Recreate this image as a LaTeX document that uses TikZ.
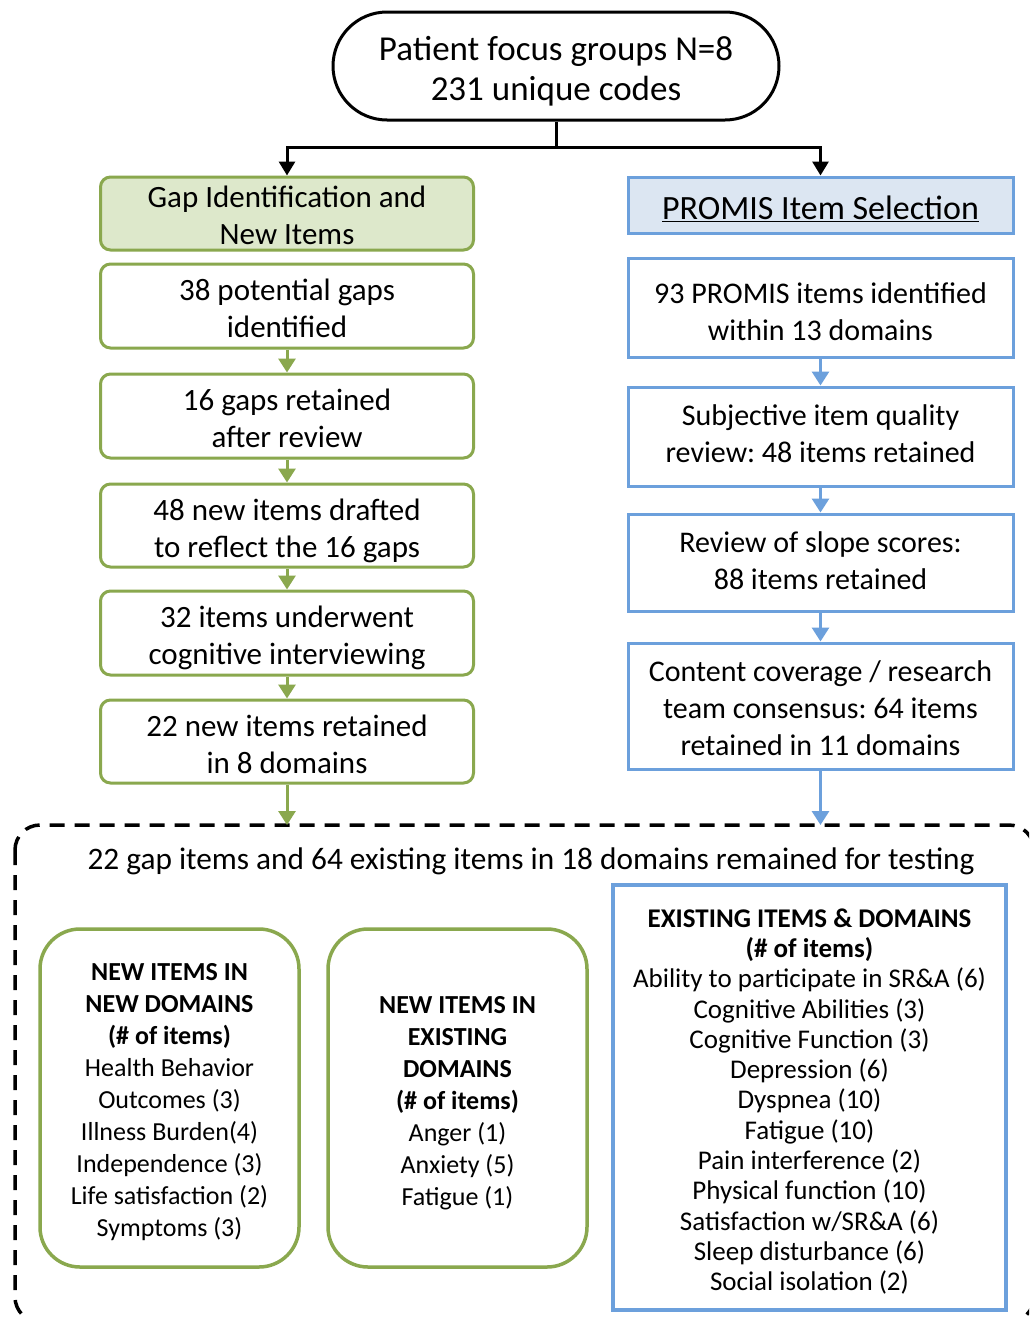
\documentclass[tikz,border=0pt]{standalone}
\usepackage{fontspec}
\setmainfont{Carlito}
\usetikzlibrary{arrows.meta}
\definecolor{gborder}{RGB}{138,168,78}
\definecolor{gfill}{RGB}{221,232,203}
\definecolor{bborder}{RGB}{108,160,220}
\definecolor{bfill}{RGB}{220,230,242}
\frenchspacing
\begin{document}
\begin{tikzpicture}[x=1pt,y=-1pt,
  gstep/.style={draw=gborder, line width=3pt, rounded corners=10pt, minimum width=373pt, inner sep=0pt},
  bstep/.style={draw=bborder, line width=3pt, minimum width=385pt, inner sep=0pt},
  gtext/.style={align=center, font=\fontsize{31}{37}\selectfont, inner sep=0pt},
  btext/.style={align=center, font=\fontsize{30}{37}\selectfont, inner sep=0pt},
  garrow/.style={draw=gborder, line width=3pt, -{Triangle[width=17pt,length=14pt]}},
  barrow/.style={draw=bborder, line width=3pt, -{Triangle[width=17pt,length=14pt]}},
  karrow/.style={draw=black, line width=3pt, -{Triangle[width=16pt,length=14pt]}},
  gbig/.style={draw=gborder, line width=3.5pt, rounded corners=40pt, minimum width=259pt, minimum height=338pt, inner sep=0pt},
  bbig/.style={draw=bborder, line width=3.5pt, minimum width=393pt, minimum height=425pt, inner sep=0pt},
  gbigtext/.style={align=center, font=\fontsize{26}{32}\selectfont, inner sep=0pt},
  bbigtext/.style={align=center, font=\fontsize{27}{30.3}\selectfont, inner sep=0pt}
]
\useasboundingbox (0,0) rectangle (1029,1317);
\fill[white] (0,0) rectangle (1029,1317);

% top
\node[draw, line width=3pt, rounded corners=54pt, minimum width=446pt, minimum height=108pt, inner sep=0pt] (top) at (556,66) {};
\node[align=center, font=\fontsize{35}{40}\selectfont, inner sep=0pt] (topt) at ([yshift=-5pt]top.center) {Patient focus groups N=8\\231 unique codes};
\coordinate (split) at (556,147);

% left column
\node[gstep, fill=gfill, minimum height=73pt] (g0) at (287,213.5) {};
\node[gstep, minimum height=84pt] (g1) at (287,306) {};
\node[gstep, minimum height=84pt] (g2) at (287,416) {};
\node[gstep, minimum height=83pt] (g3) at (287,525.5) {};
\node[gstep, minimum height=84pt] (g4) at (287,633) {};
\node[gstep, minimum height=83pt] (g5) at (287,741.5) {};
\node[gtext] (g0t) at ([yshift=-2pt]g0.center) {Gap Identification and\\New Items};
\node[gtext] (g1t) at ([yshift=-2pt]g1.center) {38 potential gaps\\identified};
\node[gtext] (g2t) at ([yshift=-2pt]g2.center) {16 gaps retained\\after review};
\node[gtext] (g3t) at ([yshift=-5pt]g3.center) {48 new items drafted\\to reflect the 16 gaps};
\node[gtext] (g4t) at ([yshift=-5pt]g4.center) {32 items underwent\\cognitive interviewing};
\node[gtext] (g5t) at ([yshift=-3pt]g5.center) {22 new items retained\\in 8 domains};

% right column
\node[bstep, fill=bfill, minimum height=56pt] (b0) at (820.5,205) {};
\node[bstep, minimum height=99pt] (b1) at (820.5,307.5) {};
\node[bstep, minimum height=99pt] (b2) at (820.5,436.5) {};
\node[bstep, minimum height=97pt] (b3) at (820.5,562.5) {};
\node[bstep, minimum height=126pt] (b4) at (820.5,706) {};
\node[btext, font=\fontsize{34}{40}\selectfont] (b0t) at ([yshift=-4pt]b0.center) {\underline{PROMIS Item Selection}};
\node[btext] (b1t) at ([yshift=-4pt]b1.center) {93 PROMIS items identified\\within 13 domains};
\node[btext] (b2t) at ([yshift=3pt]b2.center) {Subjective item quality\\review: 48 items retained};
\node[btext] (b3t) at ([yshift=2pt]b3.center) {Review of slope scores:\\88 items retained};
\node[btext] (b4t) at ([yshift=-2pt]b4.center) {Content coverage / research\\team consensus: 64 items\\retained in 11 domains};

% connectors from top
\draw[line width=3pt] (top.south) -- (split);
\draw[karrow] (split) -| (g0.north);
\draw[karrow] (split) -| (b0.north);

\draw[garrow] (g1) -- (g2);
\draw[garrow] (g2) -- (g3);
\draw[garrow] (g3) -- (g4);
\draw[garrow] (g4) -- (g5);
\draw[barrow] (b1) -- (b2);
\draw[barrow] (b2) -- (b3);
\draw[barrow] (b3) -- (b4);

% dashed container
\begin{scope}
\clip (0,0) rectangle (1029,1317);
\draw[line width=3.5pt, dash pattern=on 15pt off 10pt, rounded corners=25pt] (15,825) rectangle (1034,1322);
\end{scope}
\coordinate (gin) at (287,825);
\coordinate (bin) at (820.5,825);
\draw[garrow] (g5.south) -- (gin);
\draw[barrow] (b4.south) -- (bin);

\node[font=\fontsize{31.3}{37}\selectfont, inner sep=0pt] (title) at (531,861) {22 gap items and 64 existing items in 18 domains remained for testing};

\node[gbig] (n1) at (169.5,1098) {};
\node[gbig] (n2) at (457.5,1098) {};
\node[bbig] (e1) at (809.5,1097.5) {};
\node[gbigtext] (n1t) at ([yshift=-4pt]n1.center) {\textbf{NEW ITEMS IN}\\\textbf{NEW DOMAINS}\\\textbf{(\# of items)}\\Health Behavior\\Outcomes (3)\\Illness Burden(4)\\Independence (3)\\Life satisfaction (2)\\Symptoms (3)};
\node[gbigtext] (n2t) at ([yshift=-5pt]n2.center) {\textbf{NEW ITEMS IN}\\\textbf{EXISTING}\\\textbf{DOMAINS}\\\textbf{(\# of items)}\\Anger (1)\\Anxiety (5)\\Fatigue (1)};
\node[bbigtext] (e1t) at ([yshift=-4pt]e1.center) {\textbf{EXISTING ITEMS \& DOMAINS}\\\textbf{(\# of items)}\\Ability to participate in SR\&A (6)\\Cognitive Abilities (3)\\Cognitive Function (3)\\Depression (6)\\Dyspnea (10)\\Fatigue (10)\\Pain interference (2)\\Physical function (10)\\Satisfaction w/SR\&A (6)\\Sleep disturbance (6)\\Social isolation (2)};
\end{tikzpicture}
\end{document}
